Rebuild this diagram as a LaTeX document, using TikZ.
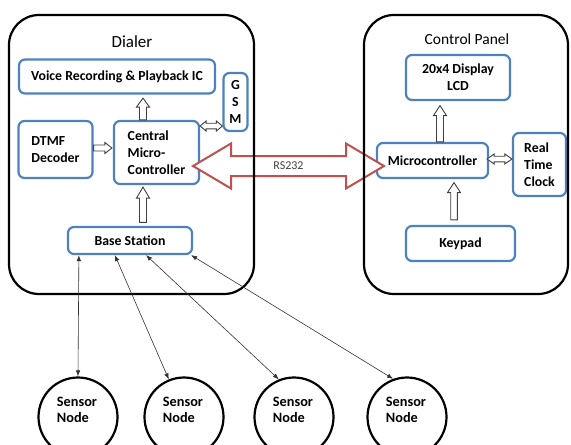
\documentclass[tikz,border=0pt]{standalone}
\usepackage{fontspec}
\setmainfont{Carlito}
\usetikzlibrary{calc,arrows.meta}
\definecolor{boxblue}{RGB}{79,129,189}
\definecolor{arrred}{RGB}{192,80,77}
\definecolor{arrgray}{RGB}{64,64,64}
\tikzset{
  panel/.style={draw=black, line width=2.2pt, rounded corners=30pt, inner sep=0pt},
  blk/.style={draw=boxblue, line width=2.2pt, rounded corners=6pt, fill=white, inner sep=0pt,
    font=\bfseries\fontsize{13.8}{16.8}\selectfont, align=center},
  lblk/.style={blk, align=left},
  sensor/.style={circle, draw=black, line width=2.2pt, minimum size=79pt, inner sep=0pt},
  stxt/.style={font=\bfseries\fontsize{14.3}{15.5}\selectfont, align=left, inner sep=0pt},
  ttl/.style={font=\fontsize{17}{20}\selectfont, inner sep=0pt},
  hollow/.style={draw=arrgray, line width=0.9pt, fill=white, line join=miter},
  bigarr/.style={draw=arrred, line width=2pt, fill=white, line join=miter},
  link/.style={draw=black!80, line width=0.6pt, {Latex[length=6pt,width=4.5pt]}-{Latex[length=6pt,width=4.5pt]}}
}
% single hollow arrow: #1 tail, #2 tip, #3 shaft half width, #4 head half width, #5 head length
\newcommand\sglarrow[5]{%
  \coordinate (ha) at ($(#2)!#5!(#1)$);
  \draw[hollow] ($(#1)!#3!90:(#2)$) -- ($(ha)!#3!90:(#2)$) -- ($(ha)!#4!90:(#2)$) -- (#2)
    -- ($(ha)!#4!-90:(#2)$) -- ($(ha)!#3!-90:(#2)$) -- ($(#1)!#3!-90:(#2)$) -- cycle;}
% double hollow arrow: #1 A, #2 B, #3 shaft half, #4 head half, #5 head length, #6 style
\newcommand\dblarrow[6]{%
  \coordinate (da) at ($(#1)!#5!(#2)$);
  \coordinate (db) at ($(#2)!#5!(#1)$);
  \draw[#6] (#1) -- ($(da)!#4!90:(#2)$) -- ($(da)!#3!90:(#2)$) -- ($(db)!#3!-90:(#1)$)
    -- ($(db)!#4!-90:(#1)$) -- (#2) -- ($(db)!#4!90:(#1)$) -- ($(db)!#3!90:(#1)$)
    -- ($(da)!#3!-90:(#2)$) -- ($(da)!#4!-90:(#2)$) -- cycle;}
\begin{document}
\begin{tikzpicture}[x=1pt,y=-1pt]
\useasboundingbox (0,0) rectangle (571,445);
% inner blocks
\node[blk, minimum width=196pt, minimum height=34pt] (voice) at (117,76.5) {Voice Recording \& Playback IC};
\node[blk, minimum width=24pt, minimum height=58pt] (gsm) at (235.5,102) {G\\S\\M};
\node[lblk, minimum width=74pt, minimum height=57pt] (dtmf) at (55.5,149.5) {DTMF\\Decoder};
\node[lblk, minimum width=85pt, minimum height=63pt] (central) at (156.5,152.5) {Central\\Micro-\\Controller};
\node[blk, minimum width=124pt, minimum height=27pt] (base) at (130,240.5) {Base Station};
\node[blk, minimum width=104pt, minimum height=45pt] (lcd) at (458,77.5) {20x4 Display\\LCD};
\node[blk, minimum width=111pt, minimum height=35pt] (micro) at (432.5,160.5) {Microcontroller};
\node[lblk, minimum width=53pt, minimum height=63pt] (rtc) at (539.5,164.5) {Real\\Time\\Clock};
\node[blk, minimum width=109pt, minimum height=35pt] (keypad) at (460.5,243.5) {Keypad};
% sensor nodes
\node[sensor] (s1) at (78,417) {};
\node[sensor] (s2) at (184,417) {};
\node[sensor] (s3) at (294,417) {};
\node[sensor] (s4) at (407,417) {};
\node[stxt] (t1) at ($(s1)+(-1,-7)$) {Sensor\\Node};
\node[stxt] (t2) at ($(s2)+(-1,-7)$) {Sensor\\Node};
\node[stxt] (t3) at ($(s3)+(-1,-7)$) {Sensor\\Node};
\node[stxt] (t4) at ($(s4)+(-1,-7)$) {Sensor\\Node};
% hollow arrows
\coordinate (ax) at (143,0);
\coordinate (bx) at (440,0);
\coordinate (kx) at (454,0);
\sglarrow{ax |- central.north}{$(ax |- voice.south)+(0,3.5)$}{3.5pt}{6.5pt}{9pt}
\sglarrow{$(ax |- base.north)+(0,-3.5)$}{$(ax |- central.south)+(0,2)$}{3.5pt}{6.5pt}{11pt}
\sglarrow{$(dtmf.east)+(0,-1.5)$}{$(central.west)+(-1,-4.5)$}{3pt}{5.5pt}{7pt}
\coordinate (g1) at ($(central.east)+(0,-26.5)$);
\coordinate (g2) at (gsm.west |- g1);
\dblarrow{g1}{g2}{2.8pt}{5pt}{6pt}{hollow}
\sglarrow{bx |- micro.north}{$(bx |- lcd.south)+(0,4.5)$}{3.5pt}{6.5pt}{10pt}
\sglarrow{$(kx |- keypad.north)+(0,-5)$}{$(kx |- micro.south)+(0,3.5)$}{3.3pt}{6.5pt}{10pt}
\coordinate (r1) at ($(micro.east)+(-2,-1.5)$);
\coordinate (r2) at (rtc.west |- r1);
\dblarrow{r1}{r2}{2.8pt}{5pt}{7pt}{hollow}
% RS232 double arrow
\coordinate (rl) at (193,166);
\coordinate (rr) at (384,166);
\dblarrow{rl}{rr}{10pt}{22.5pt}{38pt}{bigarr}
\node[font=\fontsize{12}{13}\selectfont, text=black!75, inner sep=0pt] (rs) at ($(rl)!0.5!(rr)$) {RS232};
% outer panels
\node[panel, minimum width=245pt, minimum height=279pt] (dialer) at (131.5,154.5) {};
\node[panel, minimum width=204pt, minimum height=279pt] (cpanel) at (466,154.5) {};
\node[ttl] (dtitle) at (132,42) {Dialer};
\node[ttl, font=\fontsize{15.5}{18}\selectfont] (ctitle) at (467,39.5) {Control Panel};
% sensor links
\draw[link] ($(base.south west)!0.095!(base.south east)$) -- (s1.north);
\draw[link] ($(base.south west)!0.38!(base.south east)$) -- (s2.112);
\draw[link] ($(base.south west)!0.627!(base.south east)$) -- (s3.112);
\draw[link] ($(base.south west)!0.984!(base.south east)$) -- (s4.110);
\end{tikzpicture}
\end{document}
